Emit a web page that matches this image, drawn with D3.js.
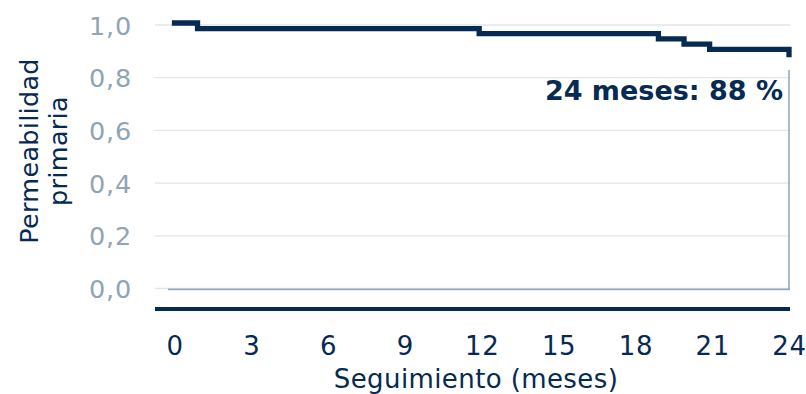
<!DOCTYPE html>
<html>
<head>
<meta charset="utf-8">
<script src="https://cdn.jsdelivr.net/npm/d3@7"></script>
<style>
  html, body { margin: 0; padding: 0; background: #ffffff; }
  svg { display: block; font-family: "DejaVu Sans", Verdana, sans-serif; }
</style>
</head>
<body>
<svg id="chart" width="806" height="394"></svg>
<script>
// Kaplan–Meier estimate of primary patency over follow-up
const stepMonths = [0, 0.9, 11.9, 18.9, 19.9, 20.9, 24];
const patency    = [1.0, 0.979, 0.96, 0.94, 0.92, 0.90, 0.88];

const xTicks = [0, 3, 6, 9, 12, 15, 18, 21, 24];
const yTicks = [0, 0.2, 0.4, 0.6, 0.8, 1.0];

const yTitleLines = ["Permeabilidad", "primaria"];
const xTitle = "Seguimiento (meses)";
const annotation = "24 meses: 88 %";

const navy = "#062a52";
const tickGrey = "#8fa4b5";
const gridColor = "#dfe6ec";
const axisGrey = "#97aabb";
const fontStack = "DejaVu Sans, Verdana, sans-serif";

const svg = d3.select("#chart");

const plotLeft = 155, plotRight = 790;
const x = d3.scaleLinear().domain([0, 24]).range([174.5, 789]);
const y = d3.scaleLinear().domain([0, 1]).range([288.5, 25]);

// horizontal grid
svg.append("g")
  .selectAll("line")
  .data(yTicks)
  .join("line")
  .attr("x1", plotLeft).attr("x2", plotRight)
  .attr("y1", d => y(d)).attr("y2", d => y(d))
  .attr("stroke", gridColor).attr("stroke-width", 1.3);

// y axis labels
const yAxis = d3.axisLeft(y)
  .tickValues(yTicks)
  .tickSize(0)
  .tickPadding(0)
  .tickFormat(d => d3.format(".1f")(d).replace(".", ","));
svg.append("g")
  .attr("transform", "translate(132,0)")
  .call(yAxis)
  .call(g => g.select(".domain").remove())
  .call(g => g.selectAll("text")
    .attr("fill", tickGrey)
    .attr("font-size", 25.5)
    .attr("letter-spacing", 0.8)
    .attr("font-family", fontStack)
    .attr("dy", "0.36em"));

// zero reference line and right border
svg.append("line")
  .attr("x1", 168).attr("x2", plotRight)
  .attr("y1", y(0) + 0.8).attr("y2", y(0) + 0.8)
  .attr("stroke", axisGrey).attr("stroke-width", 1.8);
svg.append("line")
  .attr("x1", x(24)).attr("x2", x(24))
  .attr("y1", 70).attr("y2", y(0) + 0.8)
  .attr("stroke", axisGrey).attr("stroke-width", 1.6);

// bottom axis bar
svg.append("line")
  .attr("x1", plotLeft).attr("x2", plotRight)
  .attr("y1", 309).attr("y2", 309)
  .attr("stroke", navy).attr("stroke-width", 4.2);

// x axis labels
const xAxis = d3.axisBottom(x)
  .tickValues(xTicks)
  .tickSize(0)
  .tickPadding(0)
  .tickFormat(d3.format("d"));
svg.append("g")
  .attr("transform", "translate(0,355)")
  .call(xAxis)
  .call(g => g.select(".domain").remove())
  .call(g => g.selectAll("text")
    .attr("fill", navy)
    .attr("font-size", 26)
    .attr("letter-spacing", 0.6)
    .attr("font-family", fontStack)
    .attr("y", 0)
    .attr("dy", 0));

// survival step curve
const pts = stepMonths.map((m, i) => [m, patency[i]]);
const line = d3.line()
  .x(d => x(d[0]))
  .y(d => y(d[1]))
  .curve(d3.curveStepAfter);
svg.append("path")
  .datum(pts)
  .attr("transform", "translate(0,-2)")
  .attr("d", line)
  .attr("fill", "none")
  .attr("stroke", navy)
  .attr("stroke-width", 5.3)
  .attr("stroke-linecap", "square")
  .attr("stroke-linejoin", "miter");

// annotation of the 24-month estimate
svg.append("text")
  .attr("x", 783).attr("y", 100)
  .attr("text-anchor", "end")
  .attr("font-size", 27)
  .attr("font-weight", "bold")
  .attr("fill", navy)
  .text(annotation);

// axis titles
const yTitle = svg.append("text")
  .attr("transform", "translate(0,151) rotate(-90)")
  .attr("text-anchor", "middle")
  .attr("font-size", 25.5)
  .attr("letter-spacing", 0.3)
  .attr("fill", navy);
yTitle.selectAll("tspan")
  .data(yTitleLines)
  .join("tspan")
  .attr("x", 0)
  .attr("y", (d, i) => 38 + i * 29)
  .text(d => d);

svg.append("text")
  .attr("x", 476).attr("y", 388)
  .attr("text-anchor", "middle")
  .attr("font-size", 26)
  .attr("letter-spacing", 0.4)
  .attr("fill", navy)
  .text(xTitle);
</script>
</body>
</html>
